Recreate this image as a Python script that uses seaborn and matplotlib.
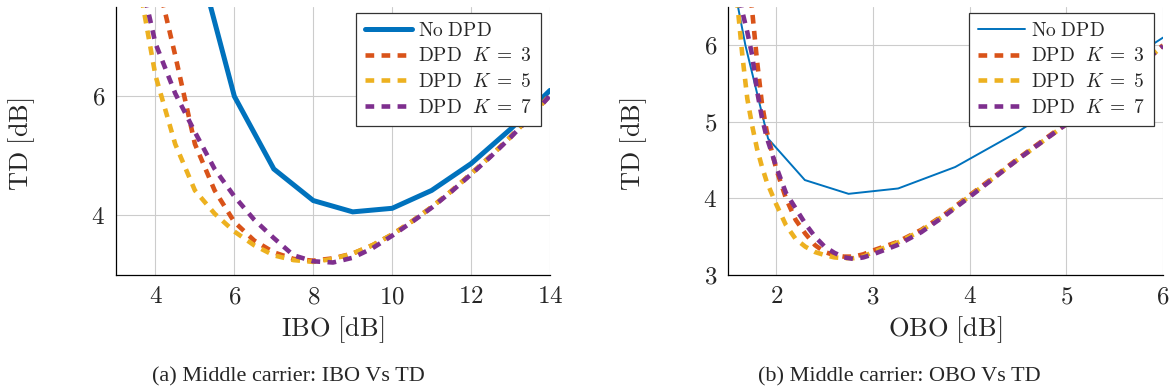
import matplotlib
matplotlib.use("Agg")
import matplotlib.pyplot as plt
import seaborn as sns

# --- values ---
# (a) IBO vs TD
ibo_nodpd = [5, 6, 7, 8, 9, 10, 11, 12, 13, 14]
td_ibo_nodpd = [8.5, 6.0, 4.78, 4.25, 4.06, 4.12, 4.42, 4.87, 5.45, 6.1]

ibo_dpd = [3.5, 4, 4.5, 5, 5.5, 6, 6.5, 7, 7.5, 8, 8.5, 9, 9.5, 10, 10.5,
           11, 11.5, 12, 12.5, 13, 13.5, 14]
td_ibo_k3 = [9.8, 8.1, 6.69, 5.2, 4.42, 3.89, 3.58, 3.38, 3.27, 3.24, 3.28, 3.36,
             3.5, 3.68, 3.9, 4.14, 4.41, 4.7, 5.0, 5.32, 5.66, 6.02]
td_ibo_k5 = [8.2, 6.35, 5.2, 4.42, 4.03, 3.73, 3.5, 3.33, 3.25, 3.22, 3.27, 3.36,
             3.5, 3.68, 3.9, 4.14, 4.41, 4.7, 5.0, 5.32, 5.66, 6.02]
td_ibo_k7 = [8.35, 6.89, 6.05, 5.4, 4.78, 4.32, 3.93, 3.62, 3.33, 3.23, 3.21, 3.29,
             3.45, 3.66, 3.89, 4.13, 4.4, 4.69, 4.99, 5.31, 5.65, 6.01]

# (b) OBO vs TD
obo_nodpd = [1.3, 1.68, 1.915, 2.295, 2.747, 3.26, 3.85, 4.5, 5.2, 6.0]
td_obo_nodpd = [8.5, 6.0, 4.78, 4.24, 4.06, 4.13, 4.41, 4.87, 5.45, 6.1]

obo_k3 = [1.7, 1.75, 1.8, 1.85, 1.9, 2.0, 2.1, 2.2, 2.3, 2.4, 2.5, 2.6, 2.7, 2.8,
          2.9, 3.0, 3.25, 3.5, 3.75, 4.0, 4.5, 5.0, 5.5, 6.0]
td_obo_k3 = [7.0, 6.45, 5.8, 5.25, 4.88, 4.38, 4.0, 3.72, 3.54, 3.39, 3.3, 3.26, 3.24,
             3.24, 3.27, 3.32, 3.43, 3.59, 3.8, 4.04, 4.52, 4.98, 5.48, 6.0]
obo_k5 = [1.55, 1.6, 1.65, 1.7, 1.75, 1.8, 1.85, 1.9, 2.0, 2.1, 2.2, 2.3, 2.4, 2.5,
          2.6, 2.7, 2.8, 2.9, 3.0, 3.25, 3.5, 3.75, 4.0, 4.5, 5.0, 5.5, 6.0]
td_obo_k5 = [7.2, 6.5, 5.85, 5.3, 4.95, 4.65, 4.42, 4.22, 3.92, 3.65, 3.47, 3.37, 3.3,
             3.26, 3.23, 3.22, 3.22, 3.24, 3.3, 3.42, 3.58, 3.79, 4.03, 4.51, 4.97,
             5.47, 5.99]
obo_k7 = [1.6, 1.65, 1.7, 1.75, 1.8, 1.85, 1.9, 2.0, 2.1, 2.2, 2.3, 2.4, 2.5, 2.6,
          2.7, 2.8, 2.9, 3.0, 3.25, 3.5, 3.75, 4.0, 4.5, 5.0, 5.5, 6.0]
td_obo_k7 = [6.8, 6.43, 6.17, 5.87, 5.41, 5.06, 4.8, 4.41, 4.07, 3.87, 3.67, 3.5, 3.37,
             3.29, 3.23, 3.21, 3.23, 3.27, 3.39, 3.56, 3.78, 4.02, 4.51, 4.97, 5.47,
             5.99]

labels = [r"$\mathrm{No\ DPD}$", r"$\mathrm{DPD}\ \ K\;=\;3$",
          r"$\mathrm{DPD}\ \ K\;=\;5$", r"$\mathrm{DPD}\ \ K\;=\;7$"]
colors = ["#0072BD", "#D95319", "#EDB120", "#7E2F8E"]

# --- style ---
sns.set_style("white")
plt.rcParams["font.family"] = ["Liberation Serif", "DejaVu Serif"]
plt.rcParams["mathtext.fontset"] = "cm"

fig = plt.figure(figsize=(11.76, 3.92), dpi=100)
ax1 = fig.add_axes([116 / 1176, 117 / 392, 434 / 1176, 268 / 392])
ax2 = fig.add_axes([728 / 1176, 117 / 392, 435 / 1176, 268 / 392])

dotted = (0, (1.9, 1.6))


def draw(ax, series, nodpd_lw):
    for i, (xs, ys) in enumerate(series):
        if i == 0:
            sns.lineplot(x=xs, y=ys, ax=ax, color=colors[i], lw=nodpd_lw,
                         label=labels[i], solid_joinstyle="miter")
        else:
            sns.lineplot(x=xs, y=ys, ax=ax, color=colors[i], lw=3.3,
                         linestyle=dotted, label=labels[i])


draw(ax1, [(ibo_nodpd, td_ibo_nodpd), (ibo_dpd, td_ibo_k3),
           (ibo_dpd, td_ibo_k5), (ibo_dpd, td_ibo_k7)], 3.6)
draw(ax2, [(obo_nodpd, td_obo_nodpd), (obo_k3, td_obo_k3),
           (obo_k5, td_obo_k5), (obo_k7, td_obo_k7)], 1.4)

# --- axes ---
ax1.set_xlim(3, 14)
ax1.set_ylim(3, 7.5)
ax1.set_xticks([4, 6, 8, 10, 12, 14], labels=["$4$", "$6$", "$8$", "$10$", "$12$", "$14$"])
ax1.set_yticks([4, 6], labels=["$4$", "$6$"])
ax1.set_xlabel(r"$\mathrm{IBO\ [dB]}$")

ax2.set_xlim(1.5, 6)
ax2.set_ylim(3, 6.5)
ax2.set_xticks([2, 3, 4, 5, 6], labels=["$2$", "$3$", "$4$", "$5$", "$6$"])
ax2.set_yticks([3, 4, 5, 6], labels=["$3$", "$4$", "$5$", "$6$"])
ax2.set_xlabel(r"$\mathrm{OBO\ [dB]}$")

for ax in (ax1, ax2):
    ax.set_ylabel(r"$\mathrm{TD\ [dB]}$")
    ax.xaxis.label.set_fontsize(19)
    ax.yaxis.label.set_fontsize(19)
    ax.xaxis.label.set_va("center")
    ax.yaxis.label.set_va("center")
    ax.xaxis.set_label_coords(0.5, -55 / 268)
    ax.yaxis.set_label_coords(-94 / 434, 0.49)
    ax.grid(True, color="#cccccc", lw=0.8)
    ax.tick_params(length=0, labelsize=18, pad=8)
    for side in ("top", "right"):
        ax.spines[side].set_visible(False)
    for side in ("left", "bottom"):
        ax.spines[side].set_color("black")
        ax.spines[side].set_linewidth(0.9)
    leg = ax.legend(loc="upper right", bbox_to_anchor=(0.979, 0.978),
                    borderaxespad=0, fontsize=14, handlelength=2.4,
                    handletextpad=0.35, labelspacing=0.4, borderpad=0.45,
                    fancybox=False, framealpha=1, edgecolor="#333333")
    leg.get_frame().set_linewidth(0.9)

fig.text(288 / 1176, 1 - 377 / 392, "(a) Middle carrier: IBO Vs TD",
         ha="center", va="center", fontsize=16)
fig.text(899 / 1176, 1 - 377 / 392, "(b) Middle carrier: OBO Vs TD",
         ha="center", va="center", fontsize=16)

fig.savefig("out.png", dpi=100)
